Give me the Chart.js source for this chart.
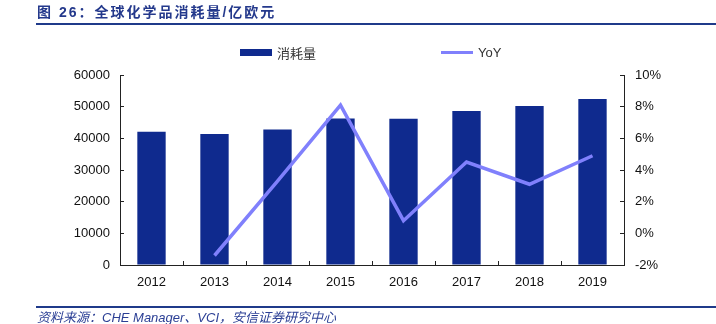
<!DOCTYPE html>
<html>
<head>
<meta charset="utf-8">
<script src="https://cdn.jsdelivr.net/npm/chart.js@4/dist/chart.umd.min.js"></script>
<style>
  html, body { margin: 0; padding: 0; background: #fff; }
  #wrap { position: relative; width: 716px; height: 324px; overflow: hidden; }
  #chart { position: absolute; left: 0; top: 0; }
  .title {
    position: absolute; left: 37px; top: 1px;
    font: bold 14px "Liberation Sans", "Noto Sans CJK SC", sans-serif;
    letter-spacing: 2px; color: #24398c;
  }
  .rule { position: absolute; left: 36px; right: 0; background: #1f3a8a; }
  .src {
    position: absolute; left: 37px; top: 307px;
    font: italic 13px "Liberation Sans", "Noto Sans CJK SC", sans-serif;
    color: #2b3f95;
  }
  .leg {
    position: absolute; top: 42px; height: 20px;
    display: flex; align-items: center;
    font: 13px "Liberation Sans", "Noto Sans CJK SC", sans-serif; color: #333;
  }
  .leg span { display: block; margin-right: 5px; }
</style>
</head>
<body>
<div id="wrap">
  <canvas id="chart" width="716" height="324"></canvas>
  <div class="title">图 26：全球化学品消耗量/亿欧元</div>
  <div class="rule" style="top:23px;height:2px;"></div>
  <div class="leg" style="left:240px;"><span style="width:32px;height:7px;background:#0f2a8e;"></span>消耗量</div>
  <div class="leg" style="left:441px;"><span style="width:32px;height:3px;background:#8080fc;"></span>YoY</div>
  <div class="rule" style="top:306px;height:1.5px;"></div>
  <div class="src">资料来源：CHE Manager、VCI，安信证券研究中心</div>
</div>
<script>
const years = ['2012', '2013', '2014', '2015', '2016', '2017', '2018', '2019'];
// 消耗量, 亿欧元
const consumption = [42100, 41400, 42800, 46300, 46200, 48600, 50200, 52400];
// YoY, %
const yoy = [null, -1.4, 3.3, 8.1, 0.8, 4.5, 3.1, 4.9];

const tickFont = { family: '"Liberation Sans", Arial, sans-serif', size: 13 };
const axisColor = '#222';

new Chart(document.getElementById('chart').getContext('2d'), {
    data: {
        labels: years,
        datasets: [
            {
                type: 'line',
                label: 'YoY',
                data: yoy,
                yAxisID: 'y1',
                borderColor: '#8080fc',
                borderWidth: 3.5,
                pointRadius: 0,
                tension: 0,
                order: 0
            },
            {
                type: 'bar',
                label: '消耗量',
                data: consumption,
                yAxisID: 'y',
                backgroundColor: '#0f2a8e',
                barPercentage: 0.45,
                categoryPercentage: 1,
                order: 1
            }
        ]
    },
    options: {
        responsive: false,
        animation: false,
        layout: { padding: { left: 0, right: 0, top: 75, bottom: 29 } },
        plugins: { legend: { display: false }, tooltip: { enabled: false } },
        scales: {
            x: {
                offset: true,
                // negative tick length turns the tick marks inward
                grid: { offset: true, drawOnChartArea: false, tickLength: -4, color: axisColor },
                border: { color: axisColor, width: 1 },
                ticks: { font: tickFont, color: '#111', padding: 14, maxRotation: 0 },
                afterFit: s => { s.height = 30; }
            },
            y: {
                position: 'left',
                min: 0, max: 60000,
                grid: { drawOnChartArea: false, tickLength: -4, color: axisColor },
                border: { color: axisColor, width: 1 },
                ticks: {
                    stepSize: 10000, font: tickFont, color: '#111', padding: 14,
                    callback: v => String(v)
                },
                afterFit: s => { s.width = 120; }
            },
            y1: {
                position: 'right',
                min: -2, max: 10,
                grid: { drawOnChartArea: false, tickLength: -4, color: axisColor },
                border: { color: axisColor, width: 1 },
                ticks: {
                    stepSize: 2, font: tickFont, color: '#111', padding: 15,
                    callback: v => v + '%'
                },
                afterFit: s => { s.width = 92; }
            }
        }
    }
});
</script>
</body>
</html>
